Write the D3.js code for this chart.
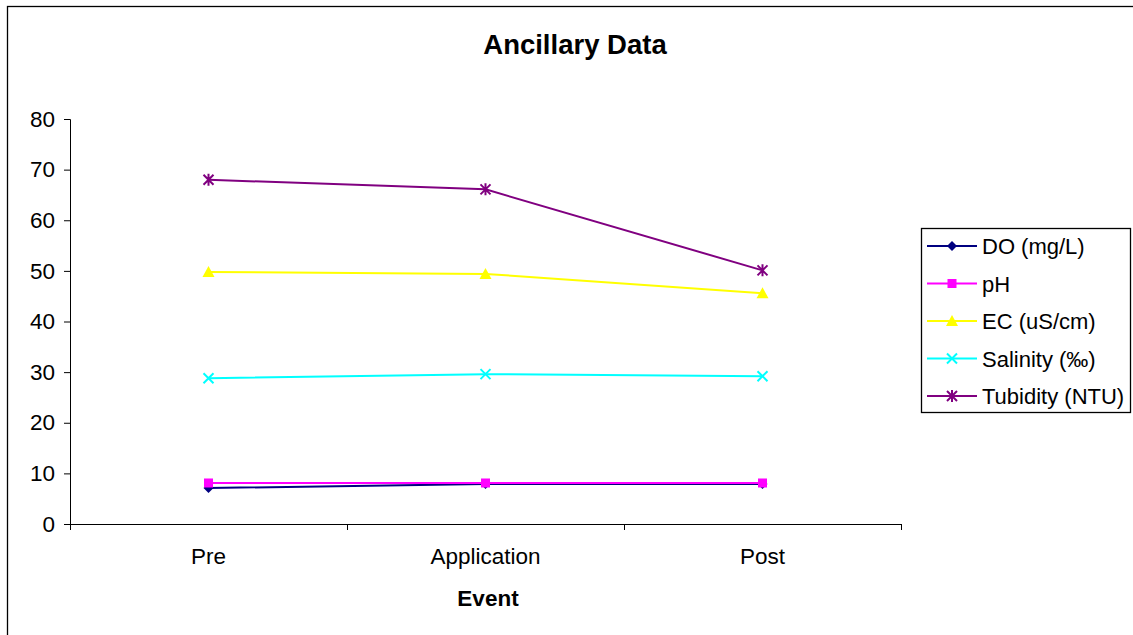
<!DOCTYPE html>
<html>
<head>
<meta charset="utf-8">
<script src="https://cdn.jsdelivr.net/npm/d3@7"></script>
<style>
  html, body { margin: 0; padding: 0; background: #fff; }
  svg { display: block; font-family: "Liberation Sans", Arial, sans-serif; }
</style>
</head>
<body>
<svg id="chart" width="1133" height="635"></svg>
<script>
// Sampling events along the x axis
const events = ["Pre", "Application", "Post"];

// Measured values per event
const doValues = [7.1, 7.9, 7.9];
const phValues = [8.1, 8.1, 8.1];
const ecValues = [49.8, 49.4, 45.6];
const salinityValues = [28.8, 29.6, 29.2];
const turbidityValues = [68, 66.1, 50.1];

const seriesNames = ["DO (mg/L)", "pH", "EC (uS/cm)", "Salinity (‰)", "Tubidity (NTU)"];
const yTicks = [0, 10, 20, 30, 40, 50, 60, 70, 80];

const series = [
  { name: seriesNames[0], values: doValues, color: "#000080", marker: "diamond" },
  { name: seriesNames[1], values: phValues, color: "#ff00ff", marker: "square" },
  { name: seriesNames[2], values: ecValues, color: "#ffff00", marker: "triangle" },
  { name: seriesNames[3], values: salinityValues, color: "#00ffff", marker: "cross" },
  { name: seriesNames[4], values: turbidityValues, color: "#800080", marker: "star" }
];

const svg = d3.select("#chart");

// Outer frame
svg.append("rect")
  .attr("x", 7.5).attr("y", 6.5)
  .attr("width", 1140).attr("height", 640)
  .attr("fill", "none").attr("stroke", "#000").attr("stroke-width", 1.3);

const plot = { left: 70, right: 901, top: 119, bottom: 524 };

const x = d3.scaleBand().domain(events).range([plot.left, plot.right]).padding(0);
const y = d3.scaleLinear().domain([0, 80]).range([plot.bottom, plot.top]);

// Y axis
const yAxis = d3.axisLeft(y).tickValues(yTicks).tickSize(6).tickPadding(9);
const gy = svg.append("g").attr("transform", `translate(${plot.left},0)`).call(yAxis);
gy.select(".domain").attr("stroke", "#000").attr("d", `M-6,${plot.top}.5H0.5V${plot.bottom}.5`);
gy.selectAll(".tick line").attr("stroke", "#000");
gy.selectAll(".tick text").attr("font-size", 22.5).attr("fill", "#000")
  .attr("font-family", "Liberation Sans, Arial, sans-serif");

// X axis with category-boundary ticks
const gx = svg.append("g").attr("transform", `translate(0,${plot.bottom})`);
gx.append("line")
  .attr("x1", plot.left).attr("x2", plot.right)
  .attr("y1", 0.5).attr("y2", 0.5).attr("stroke", "#000");
const boundaries = events.map(e => x(e)).concat([x(events[events.length - 1]) + x.bandwidth()]);
gx.selectAll("line.tk").data(boundaries).enter().append("line")
  .attr("class", "tk")
  .attr("x1", d => Math.round(d) + 0.5).attr("x2", d => Math.round(d) + 0.5)
  .attr("y1", 0).attr("y2", 6).attr("stroke", "#000");
gx.selectAll("text").data(events).enter().append("text")
  .attr("x", d => x(d) + x.bandwidth() / 2)
  .attr("y", 40)
  .attr("text-anchor", "middle")
  .attr("font-size", 22.5)
  .text(d => d);

// Titles
svg.append("text").attr("x", 575).attr("y", 54)
  .attr("text-anchor", "middle").attr("font-size", 27.5).attr("font-weight", "bold")
  .text("Ancillary Data");
svg.append("text").attr("x", 488).attr("y", 606)
  .attr("text-anchor", "middle").attr("font-size", 22.5).attr("font-weight", "bold")
  .text("Event");

// Marker drawing
function drawMarker(g, type, color) {
  if (type === "diamond") {
    g.append("path").attr("d", "M0,-5L5,0L0,5L-5,0Z").attr("fill", color);
  } else if (type === "square") {
    g.append("rect").attr("x", -4.5).attr("y", -4.5).attr("width", 9).attr("height", 9).attr("fill", color);
  } else if (type === "triangle") {
    g.append("path").attr("d", "M0,-6L6,5L-6,5Z").attr("fill", color);
  } else if (type === "cross") {
    g.append("path").attr("d", "M-5,-5L5,5M-5,5L5,-5").attr("stroke", color).attr("stroke-width", 2).attr("fill", "none");
  } else if (type === "star") {
    g.append("path").attr("d", "M-5,-5L5,5M-5,5L5,-5M0,-6V6").attr("stroke", color).attr("stroke-width", 2).attr("fill", "none");
  }
}

const cx = d => x(d) + x.bandwidth() / 2;
const line = d3.line().x(d => cx(d.e)).y(d => y(d.v));

series.forEach(s => {
  const pts = s.values.map((v, i) => ({ e: events[i], v }));
  svg.append("path").datum(pts)
    .attr("d", line).attr("fill", "none")
    .attr("stroke", s.color).attr("stroke-width", 2);
  pts.forEach(p => {
    const g = svg.append("g").attr("transform", `translate(${cx(p.e)},${y(p.v)})`);
    drawMarker(g, s.marker, s.color);
  });
});

// Legend
const legend = svg.append("g");
legend.append("rect")
  .attr("x", 921.5).attr("y", 228.5).attr("width", 209).attr("height", 184)
  .attr("fill", "#fff").attr("stroke", "#000").attr("stroke-width", 1.3);
series.forEach((s, i) => {
  const ly = 246 + i * 37.5;
  const g = legend.append("g");
  g.append("line").attr("x1", 927).attr("x2", 977).attr("y1", ly).attr("y2", ly)
    .attr("stroke", s.color).attr("stroke-width", 2);
  const m = g.append("g").attr("transform", `translate(952,${ly})`);
  drawMarker(m, s.marker, s.color);
  g.append("text").attr("x", 982).attr("y", ly + 8)
    .attr("font-size", 22).text(s.name);
});
</script>
</body>
</html>
